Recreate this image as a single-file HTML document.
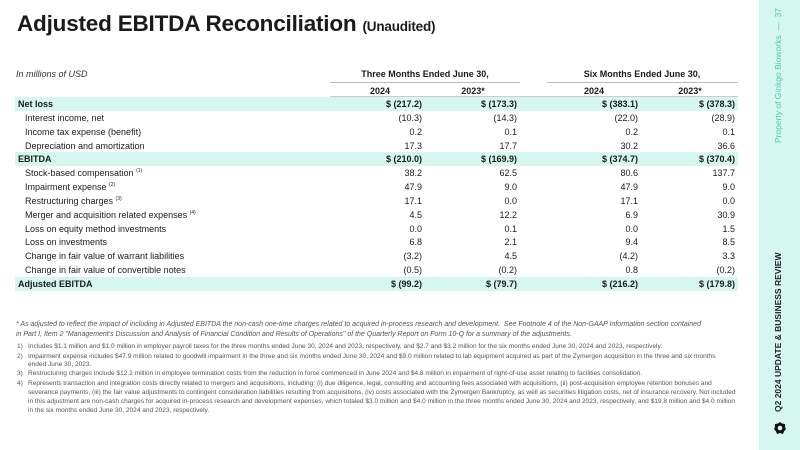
<!DOCTYPE html>
<html><head><meta charset="utf-8"><style>
*{margin:0;padding:0;box-sizing:border-box}
body{width:800px;height:450px;background:#fff;position:relative;overflow:hidden;font-family:"Liberation Sans",sans-serif;color:#1a1a1a}
.a{position:absolute;white-space:nowrap}
.title{left:17px;top:11px;font-size:22.5px;font-weight:bold;letter-spacing:-0.2px}
.title span{font-size:13.5px;font-weight:bold}
.band{position:absolute;left:15px;width:723px;height:14px;background:#d6f7ef}
.row{position:absolute;left:0;width:740px;height:14px;font-size:9px;line-height:14px}
.row .l{position:absolute;left:25px}
.row.b .l{left:18px;font-weight:bold}
.row.b{font-weight:bold}
.row .v{position:absolute;text-align:right;width:80px}
.v1{left:342px}.v2{left:437px}.v3{left:558px}.v4{left:655px}
sup{font-size:5px;vertical-align:baseline;position:relative;top:-4px;line-height:0}
.hdr{font-size:9px;font-weight:bold;text-align:center;position:absolute}
.ul{position:absolute;height:1px;background:#bbb;top:82px}
.fn{position:absolute;font-size:6.55px;color:#555;line-height:8px;white-space:nowrap}
.st{position:absolute;font-size:7px;color:#555;line-height:8px;white-space:nowrap;font-style:italic;left:16px}
.side{position:absolute;left:759px;top:0;width:41px;height:450px;background:#d6f7ef}
</style></head><body>
<div class="a title">Adjusted EBITDA Reconciliation <span>(Unaudited)</span></div>
<div class="a" style="left:16px;top:69px;font-size:9px;font-style:italic;color:#333">In millions of USD</div>
<div class="hdr" style="left:330px;width:190px;top:69px">Three Months Ended June 30,</div>
<div class="hdr" style="left:547px;width:190px;top:69px">Six Months Ended June 30,</div>
<div class="ul" style="left:330px;width:190px"></div>
<div class="ul" style="left:547px;width:191px"></div>
<div class="hdr" style="left:350px;width:60px;top:86px">2024</div>
<div class="hdr" style="left:443px;width:60px;top:86px">2023*</div>
<div class="hdr" style="left:564px;width:60px;top:86px">2024</div>
<div class="hdr" style="left:660px;width:60px;top:86px">2023*</div>
<div class="ul" style="left:330px;width:408px;top:96px;background:#ccc"></div>

<div class="band" style="top:97px"></div>
<div class="band" style="top:152px"></div>
<div class="band" style="top:277px"></div>

<div class="row b" style="top:97px"><span class="l">Net loss</span><span class="v v1">$ (217.2)</span><span class="v v2">$ (173.3)</span><span class="v v3">$ (383.1)</span><span class="v v4">$ (378.3)</span></div>
<div class="row" style="top:111px"><span class="l">Interest income, net</span><span class="v v1">(10.3)</span><span class="v v2">(14.3)</span><span class="v v3">(22.0)</span><span class="v v4">(28.9)</span></div>
<div class="row" style="top:125px"><span class="l">Income tax expense (benefit)</span><span class="v v1">0.2</span><span class="v v2">0.1</span><span class="v v3">0.2</span><span class="v v4">0.1</span></div>
<div class="row" style="top:138.5px"><span class="l">Depreciation and amortization</span><span class="v v1">17.3</span><span class="v v2">17.7</span><span class="v v3">30.2</span><span class="v v4">36.6</span></div>
<div class="row b" style="top:152px"><span class="l">EBITDA</span><span class="v v1">$ (210.0)</span><span class="v v2">$ (169.9)</span><span class="v v3">$ (374.7)</span><span class="v v4">$ (370.4)</span></div>
<div class="row" style="top:166px"><span class="l">Stock-based compensation <sup>(1)</sup></span><span class="v v1">38.2</span><span class="v v2">62.5</span><span class="v v3">80.6</span><span class="v v4">137.7</span></div>
<div class="row" style="top:180px"><span class="l">Impairment expense <sup>(2)</sup></span><span class="v v1">47.9</span><span class="v v2">9.0</span><span class="v v3">47.9</span><span class="v v4">9.0</span></div>
<div class="row" style="top:194px"><span class="l">Restructuring charges <sup>(3)</sup></span><span class="v v1">17.1</span><span class="v v2">0.0</span><span class="v v3">17.1</span><span class="v v4">0.0</span></div>
<div class="row" style="top:207.5px"><span class="l">Merger and acquisition related expenses <sup>(4)</sup></span><span class="v v1">4.5</span><span class="v v2">12.2</span><span class="v v3">6.9</span><span class="v v4">30.9</span></div>
<div class="row" style="top:221.5px"><span class="l">Loss on equity method investments</span><span class="v v1">0.0</span><span class="v v2">0.1</span><span class="v v3">0.0</span><span class="v v4">1.5</span></div>
<div class="row" style="top:235px"><span class="l">Loss on investments</span><span class="v v1">6.8</span><span class="v v2">2.1</span><span class="v v3">9.4</span><span class="v v4">8.5</span></div>
<div class="row" style="top:249px"><span class="l">Change in fair value of warrant liabilities</span><span class="v v1">(3.2)</span><span class="v v2">4.5</span><span class="v v3">(4.2)</span><span class="v v4">3.3</span></div>
<div class="row" style="top:263px"><span class="l">Change in fair value of convertible notes</span><span class="v v1">(0.5)</span><span class="v v2">(0.2)</span><span class="v v3">0.8</span><span class="v v4">(0.2)</span></div>
<div class="row b" style="top:277px"><span class="l">Adjusted EBITDA</span><span class="v v1">$ (99.2)</span><span class="v v2">$ (79.7)</span><span class="v v3">$ (216.2)</span><span class="v v4">$ (179.8)</span></div>

<div class="st" style="top:321px">* As adjusted to reflect the impact of including in Adjusted EBITDA the non-cash one-time charges related to acquired in-process research and development.&nbsp; See Footnote 4 of the Non-GAAP Information section contained</div>
<div class="st" style="top:331px">in Part I, Item 2 "Management's Discussion and Analysis of Financial Condition and Results of Operations" of the Quarterly Report on Form 10-Q for a summary of the adjustments.</div>

<div class="fn" style="left:17px;top:343px">1)</div>
<div class="fn" style="left:28px;top:343px">Includes $1.1 million and $1.0 million in employer payroll taxes for the three months ended June 30, 2024 and 2023, respectively, and $2.7 and $3.2 million for the six months ended June 30, 2024 and 2023, respectively.</div>
<div class="fn" style="left:17px;top:353px">2)</div>
<div class="fn" style="left:28px;top:353px">Impairment expense includes $47.9 million related to goodwill impairment in the three and six months ended June 30, 2024 and $9.0 million related to lab equipment acquired as part of the Zymergen acquisition in the three and six months</div>
<div class="fn" style="left:28px;top:361px">ended June 30, 2023.</div>
<div class="fn" style="left:17px;top:370px">3)</div>
<div class="fn" style="left:28px;top:370px">Restructuring charges include $12.2 million in employee termination costs from the reduction in force commenced in June 2024 and $4.8 million in impairment of right-of-use asset relating to facilities consolidation.</div>
<div class="fn" style="left:17px;top:380px">4)</div>
<div class="fn" style="left:28px;top:380px">Represents transaction and integration costs directly related to mergers and acquisitions, including: (i) due diligence, legal, consulting and accounting fees associated with acquisitions, (ii) post-acquisition employee retention bonuses and</div>
<div class="fn" style="left:28px;top:389px">severance payments, (iii) the fair value adjustments to contingent consideration liabilities resulting from acquisitions, (iv) costs associated with the Zymergen Bankruptcy, as well as securities litigation costs, net of insurance recovery. Not included</div>
<div class="fn" style="left:28px;top:398px">in this adjustment are non-cash charges for acquired in-process research and development expenses, which totaled $3.0 million and $4.0 million in the three months ended June 30, 2024 and 2023, respectively, and $19.8 million and $4.0 million</div>
<div class="fn" style="left:28px;top:407px">in the six months ended June 30, 2024 and 2023, respectively.</div>

<div class="side"></div>
<div class="a" style="left:779px;top:8px;transform-origin:0 0;transform:rotate(-90deg) translate(-150px,-6px);width:150px;text-align:right;font-size:8.5px;color:#4fc9a8">Property of Ginkgo Bioworks &nbsp;— &nbsp;37</div>
<div class="a" style="left:779px;top:412px;transform-origin:0 0;transform:rotate(-90deg) translate(0,-6px);font-size:8.5px;font-weight:bold;color:#222">Q2 2024 UPDATE &amp; BUSINESS REVIEW</div>
<svg class="a" style="left:773px;top:421px" width="14" height="14" viewBox="0 0 14 14"><path d="M7 1 L9 2.5 L12 3 L12 6 L13 8 L11 10.5 L10 13 L7 12 L4 13 L3 10.5 L1 8 L2 6 L2 3 L5 2.5 Z" fill="#111"/><circle cx="7" cy="7" r="2.3" fill="#d6f7ef"/></svg>
</body></html>
